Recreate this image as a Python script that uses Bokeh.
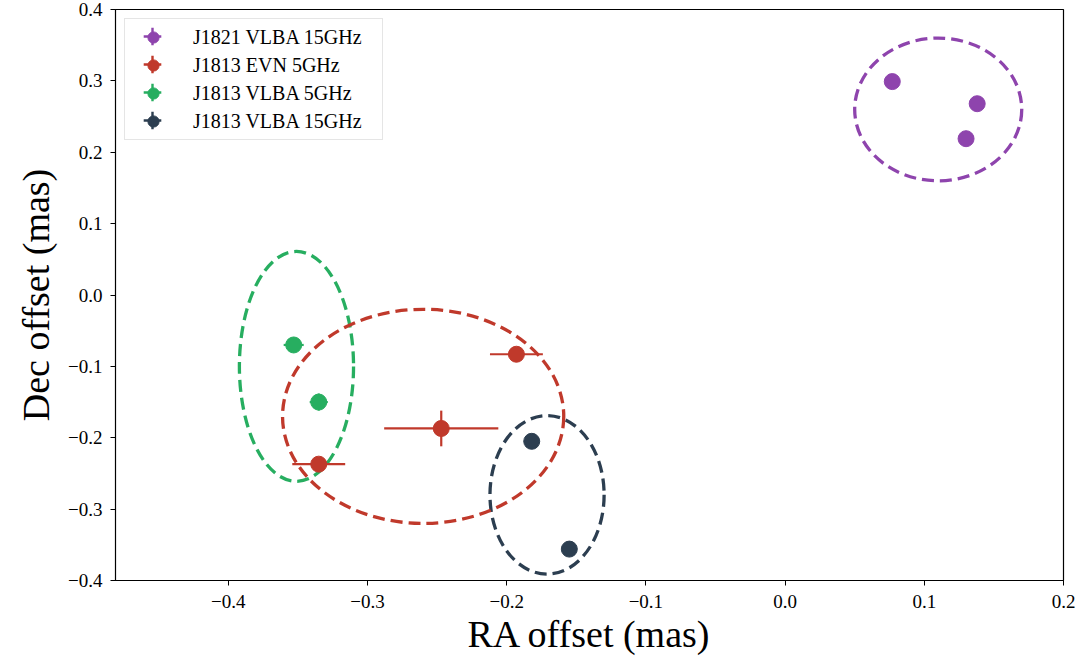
from bokeh.plotting import figure
from bokeh.models import (ColumnDataSource, Legend, LegendItem, CustomJSTickFormatter,
                          FixedTicker, Range1d)
from bokeh.embed import file_html
from bokeh.resources import INLINE

# ---- data ----
series_names = ["J1821 VLBA 15GHz", "J1813 EVN 5GHz", "J1813 VLBA 5GHz", "J1813 VLBA 15GHz"]
series_colors = ["#8e44ad", "#c0392b", "#27ae60", "#2c3e50"]

j1821_ra = [0.077, 0.138, 0.130]
j1821_dec = [0.299, 0.268, 0.219]
j1821_ra_err = [0.0, 0.0, 0.0]
j1821_dec_err = [0.0, 0.0, 0.0]

evn_ra = [-0.193, -0.247, -0.335]
evn_dec = [-0.083, -0.187, -0.237]
evn_ra_err = [0.019, 0.041, 0.019]
evn_dec_err = [0.002, 0.025, 0.003]

vlba5_ra = [-0.353, -0.335]
vlba5_dec = [-0.070, -0.150]
vlba5_ra_err = [0.0072, 0.0065]
vlba5_dec_err = [0.010, 0.012]

vlba15_ra = [-0.182, -0.155]
vlba15_dec = [-0.205, -0.356]
vlba15_ra_err = [0.0, 0.0]
vlba15_dec_err = [0.0, 0.0]

# ellipses (same order as series)
ell_x = [0.110, -0.260, -0.351, -0.171]
ell_y = [0.260, -0.170, -0.100, -0.280]
ell_w = [0.120, 0.202, 0.082, 0.082]
ell_h = [0.200, 0.300, 0.322, 0.222]

x_ticks = [-0.4, -0.3, -0.2, -0.1, 0.0, 0.1, 0.2]
y_ticks = [-0.4, -0.3, -0.2, -0.1, 0.0, 0.1, 0.2, 0.3, 0.4]

SERIF = "Liberation Serif"
W, H = 1092, 664
B_LEFT, B_RIGHT, B_TOP, B_BOTTOM = 115, 29, 9, 84

p = figure(width=W, height=H, output_backend="svg", toolbar_location=None,
           x_range=Range1d(-0.481, 0.2), y_range=Range1d(-0.4, 0.4),
           min_border_left=B_LEFT, min_border_right=B_RIGHT,
           min_border_top=B_TOP, min_border_bottom=B_BOTTOM)
p.xgrid.visible = False
p.ygrid.visible = False
p.outline_line_color = "black"
p.outline_line_width = 1.2
p.background_fill_color = "white"
p.border_fill_color = "white"

fmt = CustomJSTickFormatter(code="return tick.toFixed(1).replace('-', '\u2212');")
for ax, ticks in ((p.xaxis[0], x_ticks), (p.yaxis[0], y_ticks)):
    ax.ticker = FixedTicker(ticks=ticks)
    ax.formatter = fmt
    ax.major_tick_out = 5
    ax.major_tick_in = 0
    ax.minor_tick_line_color = None
    ax.major_label_text_font = SERIF
    ax.major_label_text_font_size = "19px"
    ax.major_label_text_color = "black"
    ax.axis_label_text_font = SERIF
    ax.axis_label_text_font_size = "38px"
    ax.axis_label_text_font_style = "normal"
    ax.axis_label_text_color = "black"
    ax.axis_line_color = "black"
    ax.major_tick_line_color = "black"
p.xaxis.axis_label = "RA offset (mas)"
p.yaxis.axis_label = "Dec offset (mas)"
p.xaxis.major_label_standoff = 9
p.yaxis.major_label_standoff = 8
p.xaxis.axis_label_standoff = 2
p.yaxis.axis_label_standoff = 8

# ellipses
for i in [0, 3, 2, 1]:
    p.ellipse(x=[ell_x[i]], y=[ell_y[i]], width=[ell_w[i]], height=[ell_h[i]],
              fill_color=None, line_color=series_colors[i], line_width=3.3, line_dash="12 6")

series = [
    (j1821_ra, j1821_dec, j1821_ra_err, j1821_dec_err),
    (evn_ra, evn_dec, evn_ra_err, evn_dec_err),
    (vlba5_ra, vlba5_dec, vlba5_ra_err, vlba5_dec_err),
    (vlba15_ra, vlba15_dec, vlba15_ra_err, vlba15_dec_err),
]

dot_items = []
cross_renderers = []
for (ra, dec, rerr, derr), name, col in zip(series, series_names, series_colors):
    src = ColumnDataSource(dict(
        x=ra, y=dec,
        x0=[a - e for a, e in zip(ra, rerr)], x1=[a + e for a, e in zip(ra, rerr)],
        y0=[d - e for d, e in zip(dec, derr)], y1=[d + e for d, e in zip(dec, derr)]))
    p.segment(x0="x0", y0="y", x1="x1", y1="y", source=src, line_color=col, line_width=2.2)
    p.segment(x0="x", y0="y0", x1="x", y1="y1", source=src, line_color=col, line_width=2.2)
    r = p.scatter(x="x", y="y", source=src, size=16, marker="circle",
                  fill_color=col, line_color=col)
    # legend-only errorbar cross glyph (size 0 in the plot itself)
    cross = p.scatter(x="x", y="y", source=src, marker="cross", size=0,
                      line_color=col, line_width=2.4)
    dot_items.append(LegendItem(label=name, renderers=[r]))
    cross_renderers.append(cross)

# main legend geometry
MARGIN = 9
PAD = 4
GW, GH = 48, 28
legend = Legend(items=dot_items, location="top_left")
legend.label_text_font = SERIF
legend.label_text_font_size = "20px"
legend.label_text_color = "black"
legend.border_line_color = "#cccccc"
legend.border_line_width = 1.3
legend.background_fill_color = "white"
legend.background_fill_alpha = 0.85
legend.margin = MARGIN
legend.padding = PAD
legend.spacing = 0
legend.glyph_width = GW
legend.glyph_height = GH
legend.label_height = GH
legend.label_standoff = 16
legend.label_width = 185
p.add_layout(legend)

# errorbar crosses overlaid on the legend glyphs
frame_h = H - B_TOP - B_BOTTOM
CG = 44
for k, cr in enumerate(cross_renderers):
    cx = MARGIN + PAD + GW / 2              # from frame left
    cy_top = MARGIN + PAD + GH / 2 + k * GH  # from frame top
    box_left = cx - CG / 2
    box_bottom_from_top = cy_top + CG / 2
    lg = Legend(items=[LegendItem(label=" ", renderers=[cr])],
                location=(box_left, frame_h - box_bottom_from_top))
    lg.margin = 0
    lg.padding = 0
    lg.glyph_width = CG
    lg.glyph_height = CG
    lg.label_height = 1
    lg.label_standoff = 0
    lg.label_text_font_size = "1px"
    lg.label_text_alpha = 0
    lg.border_line_color = None
    lg.background_fill_alpha = 0
    p.add_layout(lg)

open("out.html", "w").write(file_html(p, INLINE))
